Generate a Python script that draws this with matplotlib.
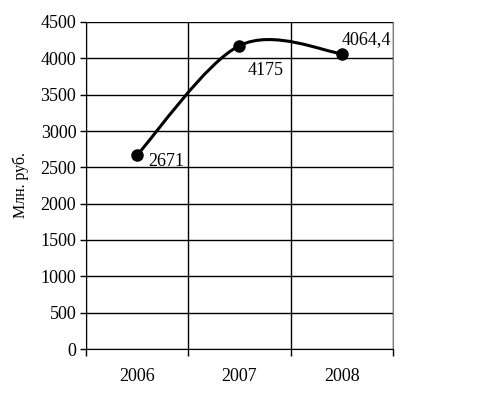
import numpy as np
import matplotlib
matplotlib.use("Agg")
import matplotlib.pyplot as plt
from matplotlib.path import Path
from matplotlib.patches import PathPatch

years = ["2006", "2007", "2008"]
values = [2671, 4175, 4064.4]
labels = ["2671", "4175", "4064,4"]
y_ticks = list(range(0, 4501, 500))

plt.rcParams["font.family"] = ["Liberation Serif", "DejaVu Serif"]

fig = plt.figure(figsize=(4.96, 3.97), dpi=100)
ax = fig.add_axes([86 / 496, 1 - 349 / 397, (393 - 86) / 496, (349 - 22) / 397])

x = np.arange(len(years), dtype=float)
y = np.array(values, dtype=float)

# smoothed line (Excel-style bezier through the points)
px = np.concatenate([[x[0]], x, [x[-1]]])
py = np.concatenate([[y[0]], y, [y[-1]]])
verts = [(x[0], y[0])]
codes = [Path.MOVETO]
for i in range(len(x) - 1):
    c1 = (x[i] + (px[i + 2] - px[i]) / 6, y[i] + (py[i + 2] - py[i]) / 6)
    c2 = (x[i + 1] - (px[i + 3] - px[i + 1]) / 6, y[i + 1] - (py[i + 3] - py[i + 1]) / 6)
    verts += [c1, c2, (x[i + 1], y[i + 1])]
    codes += [Path.CURVE4] * 3
ax.add_patch(PathPatch(Path(verts, codes), fill=False, lw=2.2, ec="black", zorder=3))
ax.plot(x, y, "o", color="black", ms=8, zorder=4)

offsets = [(8, -5, "left", "center"), (6, -12, "left", "top"), (0, 4, "left", "bottom")]
for xi, yi, lab, (dx, dy, ha, va) in zip(x, y, labels, offsets):
    ax.annotate(lab, (xi, yi), xytext=(dx, dy), textcoords="offset points",
                ha=ha, va=va, fontsize=13)

ax.set_xlim(-0.5, len(years) - 0.5)
ax.set_ylim(0, 4500)
ax.set_yticks(y_ticks)
ax.set_xticks(x)
ax.set_xticklabels(years)
ax.set_xticks(np.arange(-0.5, len(years), 1.0), minor=True)

ax.grid(True, axis="y", color="black", lw=1)
ax.grid(True, axis="x", which="minor", color="black", lw=1)
ax.set_axisbelow(True)

ax.tick_params(axis="x", which="major", length=0, pad=14, labelsize=13)
ax.tick_params(axis="x", which="minor", length=5, width=1, direction="out")
ax.tick_params(axis="y", length=4, width=1, direction="out", labelsize=13, pad=3)

for s in ["left", "bottom"]:
    ax.spines[s].set_color("black")
ax.spines["top"].set_visible(False)
ax.spines["right"].set_color("gray")

ax.set_ylabel("Млн. руб.", fontsize=11.5, labelpad=8)

fig.savefig("out.png", dpi=100)
